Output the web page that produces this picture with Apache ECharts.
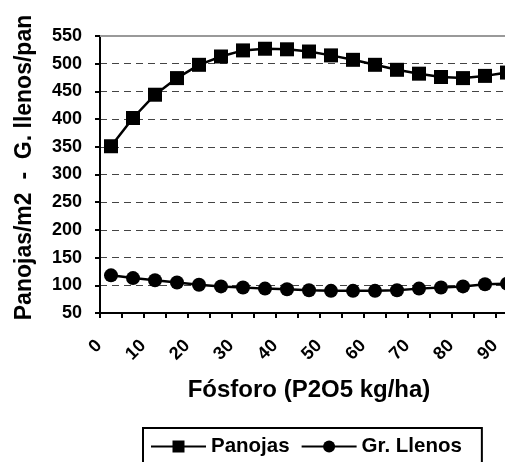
<!DOCTYPE html>
<html>
<head>
<meta charset="utf-8">
<script src="https://cdn.jsdelivr.net/npm/echarts@6/dist/echarts.min.js"></script>
<style>
html,body{margin:0;padding:0;background:#fff;}
#chart{width:505px;height:462px;}
</style>
</head>
<body>
<div id="chart"></div>
<script>
const categories = ['0','5','10','15','20','25','30','35','40','45','50','55','60','65','70','75','80','85','90'];
const panojas = [351, 402, 444, 474, 498, 513, 524, 527, 526, 522, 515, 507, 498, 489, 482, 476, 474, 478, 484];
const llenos = [118, 113, 109, 105, 101, 98, 96, 94, 93, 91, 90, 90, 90, 91, 94, 96, 98, 102, 103];
const yMin = 50, yMax = 550, yStep = 50;

const FONT = "'Liberation Sans', Arial, sans-serif";
const chart = echarts.init(document.getElementById('chart'), null, {renderer: 'canvas'});
chart.setOption({
  animation: false,
  color: ['#000', '#000'],
  textStyle: {fontFamily: FONT},
  grid: {left: 100, top: 36, right: -13, bottom: 149, containLabel: false, outerBoundsMode: 'none'},
  legend: {
    left: 143, top: 428,
    padding: [8, 20, 8, 7],
    itemWidth: 55, itemHeight: 15, itemGap: 11,
    borderColor: '#000', borderWidth: 2,
    textStyle: {fontFamily: FONT, fontWeight: 'bold', fontSize: 20.5, color: '#000'},
    data: ['Panojas', 'Gr. Llenos']
  },
  xAxis: {
    type: 'category',
    data: categories,
    boundaryGap: true,
    name: 'Fósforo (P2O5 kg/ha)',
    nameLocation: 'middle',
    nameGap: 65,
    nameTextStyle: {fontFamily: FONT, fontWeight: 'bold', fontSize: 24, color: '#000'},
    axisLine: {lineStyle: {color: '#000', width: 2}},
    axisTick: {show: true, interval: 0, length: 5, lineStyle: {color: '#000', width: 2}},
    axisLabel: {
      interval: 1, rotate: 45, margin: 18,
      padding: [0, 17, 0, 0],
      fontFamily: FONT, fontWeight: 'bold', fontSize: 18, color: '#000'
    },
    splitLine: {show: false}
  },
  yAxis: {
    type: 'value',
    min: yMin, max: yMax, interval: yStep,
    name: 'Panojas/m2  -  G. llenos/pan',
    nameLocation: 'middle',
    nameGap: 64,
    nameTextStyle: {fontFamily: FONT, fontWeight: 'bold', fontSize: 23, color: '#000', padding: [0, 0, 0, 14]},
    axisLine: {show: true, lineStyle: {color: '#000', width: 2}},
    axisTick: {show: true, length: 5, lineStyle: {color: '#000', width: 2}},
    axisLabel: {margin: 18, fontFamily: FONT, fontWeight: 'bold', fontSize: 18, color: '#000'},
    splitLine: {show: true, lineStyle: {color: '#444', width: 1, type: [7, 5]}}
  },
  series: [
    {
      name: 'Panojas', type: 'line', data: panojas,
      symbol: 'rect', symbolSize: 14,
      lineStyle: {color: '#000', width: 2.5},
      itemStyle: {color: '#000'},
      markLine: {
        silent: true, symbol: 'none', label: {show: false},
        lineStyle: {color: '#999', width: 2, type: 'solid'},
        data: [{yAxis: yMax}]
      }
    },
    {
      name: 'Gr. Llenos', type: 'line', data: llenos,
      symbol: 'circle', symbolSize: 14,
      lineStyle: {color: '#000', width: 2.5},
      itemStyle: {color: '#000'}
    }
  ]
});
</script>
</body>
</html>
